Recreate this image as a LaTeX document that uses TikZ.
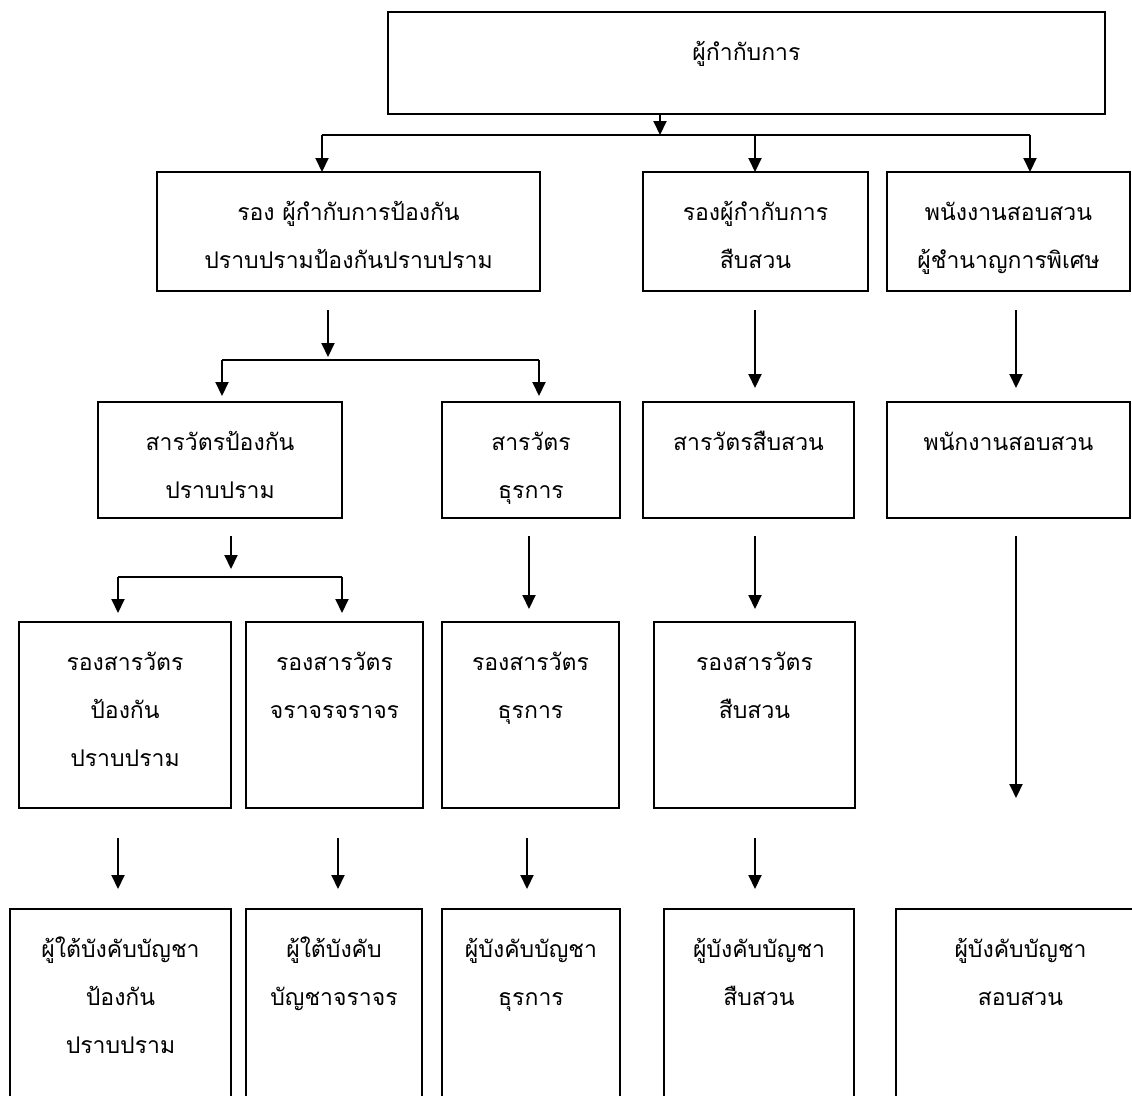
\documentclass[tikz,border=0pt]{standalone}
\usepackage{fontspec}
\newfontfamily\thaifont[Script=Thai]{Loma}
\usetikzlibrary{arrows.meta}
\tikzset{
  box/.style={draw, line width=1.6pt, rectangle, inner sep=0pt, outer sep=0pt},
  lbl/.style={font=\thaifont\fontsize{23}{48}\selectfont, align=center, inner sep=0pt, anchor=north},
  ln/.style={line width=2pt},
  arr/.style={line width=2pt, -{Triangle[width=13pt,length=14pt]}},
}
\newcommand\orgbox[6]{%
  \node[box, minimum width={#4-#2}, minimum height={#5-#3}] (#1) at ({(#2+#4)/2},{(#3+#5)/2}) {};
  \node[lbl] (#1t) at ([yshift=-18pt]#1.north) {\rule{0pt}{30pt}#6};
}
\begin{document}
\begin{tikzpicture}[x=1pt,y=-1pt]
\useasboundingbox (0,0) rectangle (1132,1095);
\clip (0,0) rectangle (1132,1095);
% boxes
\orgbox{T}{388}{12}{1105}{114}{ผู้กำกับการ}
\orgbox{La}{157}{172}{540}{291}{รอง ผู้กำกับการป้องกัน\\ปราบปรามป้องกันปราบปราม}
\orgbox{Lb}{643}{172}{868}{291}{รองผู้กำกับการ\\สืบสวน}
\orgbox{Lc}{887}{172}{1130}{291}{พนังงานสอบสวน\\ผู้ชำนาญการพิเศษ}
\orgbox{Ma}{98}{402}{342}{518}{สารวัตรป้องกัน\\ปราบปราม}
\orgbox{Mb}{442}{402}{620}{518}{สารวัตร\\ธุรการ}
\orgbox{Mc}{643}{402}{854}{518}{สารวัตรสืบสวน}
\orgbox{Md}{887}{402}{1130}{518}{พนักงานสอบสวน}
\orgbox{Na}{19}{622}{231}{808}{รองสารวัตร\\ป้องกัน\\ปราบปราม}
\orgbox{Nb}{246}{622}{423}{808}{รองสารวัตร\\จราจรจราจร}
\orgbox{Nc}{442}{622}{619}{808}{รองสารวัตร\\ธุรการ}
\orgbox{Nd}{654}{622}{855}{808}{รองสารวัตร\\สืบสวน}
\orgbox{Pa}{10}{909}{231}{1115}{ผู้ใต้บังคับบัญชา\\ป้องกัน\\ปราบปราม}
\orgbox{Pb}{246}{909}{422}{1115}{ผู้ใต้บังคับ\\บัญชาจราจร}
\orgbox{Pc}{442}{909}{620}{1115}{ผู้บังคับบัญชา\\ธุรการ}
\orgbox{Pd}{664}{909}{854}{1115}{ผู้บังคับบัญชา\\สืบสวน}
\orgbox{Pe}{896}{909}{1145}{1115}{ผู้บังคับบัญชา\\สอบสวน}
% level 0 -> 1
\coordinate (j0) at (660,135);
\coordinate (b0l) at (322,135);
\coordinate (b0m) at (755,135);
\coordinate (b0r) at (1030,135);
\draw[arr] (T.south -| j0) -- (j0);
\draw[ln] (b0l) -- (b0r);
\draw[arr] (b0l) -- (b0l |- La.north);
\draw[arr] (b0m) -- (b0m |- Lb.north);
\draw[arr] (b0r) -- (b0r |- Lc.north);
% level 1 -> 2
\coordinate (s1a) at (328,310);
\coordinate (j1) at (328,360);
\coordinate (b1l) at (222,360);
\coordinate (b1r) at (539,360);
\draw[arr, shorten >=3pt] (s1a) -- (j1);
\draw[ln] (b1l) -- (b1r);
\draw[arr, shorten >=6pt] (b1l) -- (b1l |- Ma.north);
\draw[arr, shorten >=6pt] (b1r) -- (b1r |- Mb.north);
\coordinate (s1b) at (755,310);
\coordinate (s1c) at (1016,310);
\draw[arr, shorten >=14pt] (s1b) -- (s1b |- Mc.north);
\draw[arr, shorten >=14pt] (s1c) -- (s1c |- Md.north);
% level 2 -> 3
\coordinate (s2a) at (231,536);
\coordinate (j2) at (231,577);
\coordinate (b2l) at (118,577);
\coordinate (b2r) at (342,577);
\draw[arr, shorten >=8pt] (s2a) -- (j2);
\draw[ln] (b2l) -- (b2r);
\draw[arr, shorten >=9pt] (b2l) -- (b2l |- Na.north);
\draw[arr, shorten >=9pt] (b2r) -- (b2r |- Nb.north);
\coordinate (s2b) at (529,536);
\coordinate (s2c) at (755,536);
\coordinate (s2d) at (1016,536);
\draw[arr, shorten >=13pt] (s2b) -- (s2b |- Nc.north);
\draw[arr, shorten >=13pt] (s2c) -- (s2c |- Nd.north);
\draw[arr, shorten >=111pt] (s2d) -- (s2d |- Pe.north);
% level 3 -> 4
\coordinate (s3a) at (118,838);
\coordinate (s3b) at (338,838);
\coordinate (s3c) at (527,838);
\coordinate (s3d) at (755,838);
\draw[arr, shorten >=20pt] (s3a) -- (s3a |- Pa.north);
\draw[arr, shorten >=20pt] (s3b) -- (s3b |- Pb.north);
\draw[arr, shorten >=20pt] (s3c) -- (s3c |- Pc.north);
\draw[arr, shorten >=20pt] (s3d) -- (s3d |- Pd.north);
\end{tikzpicture}
\end{document}
